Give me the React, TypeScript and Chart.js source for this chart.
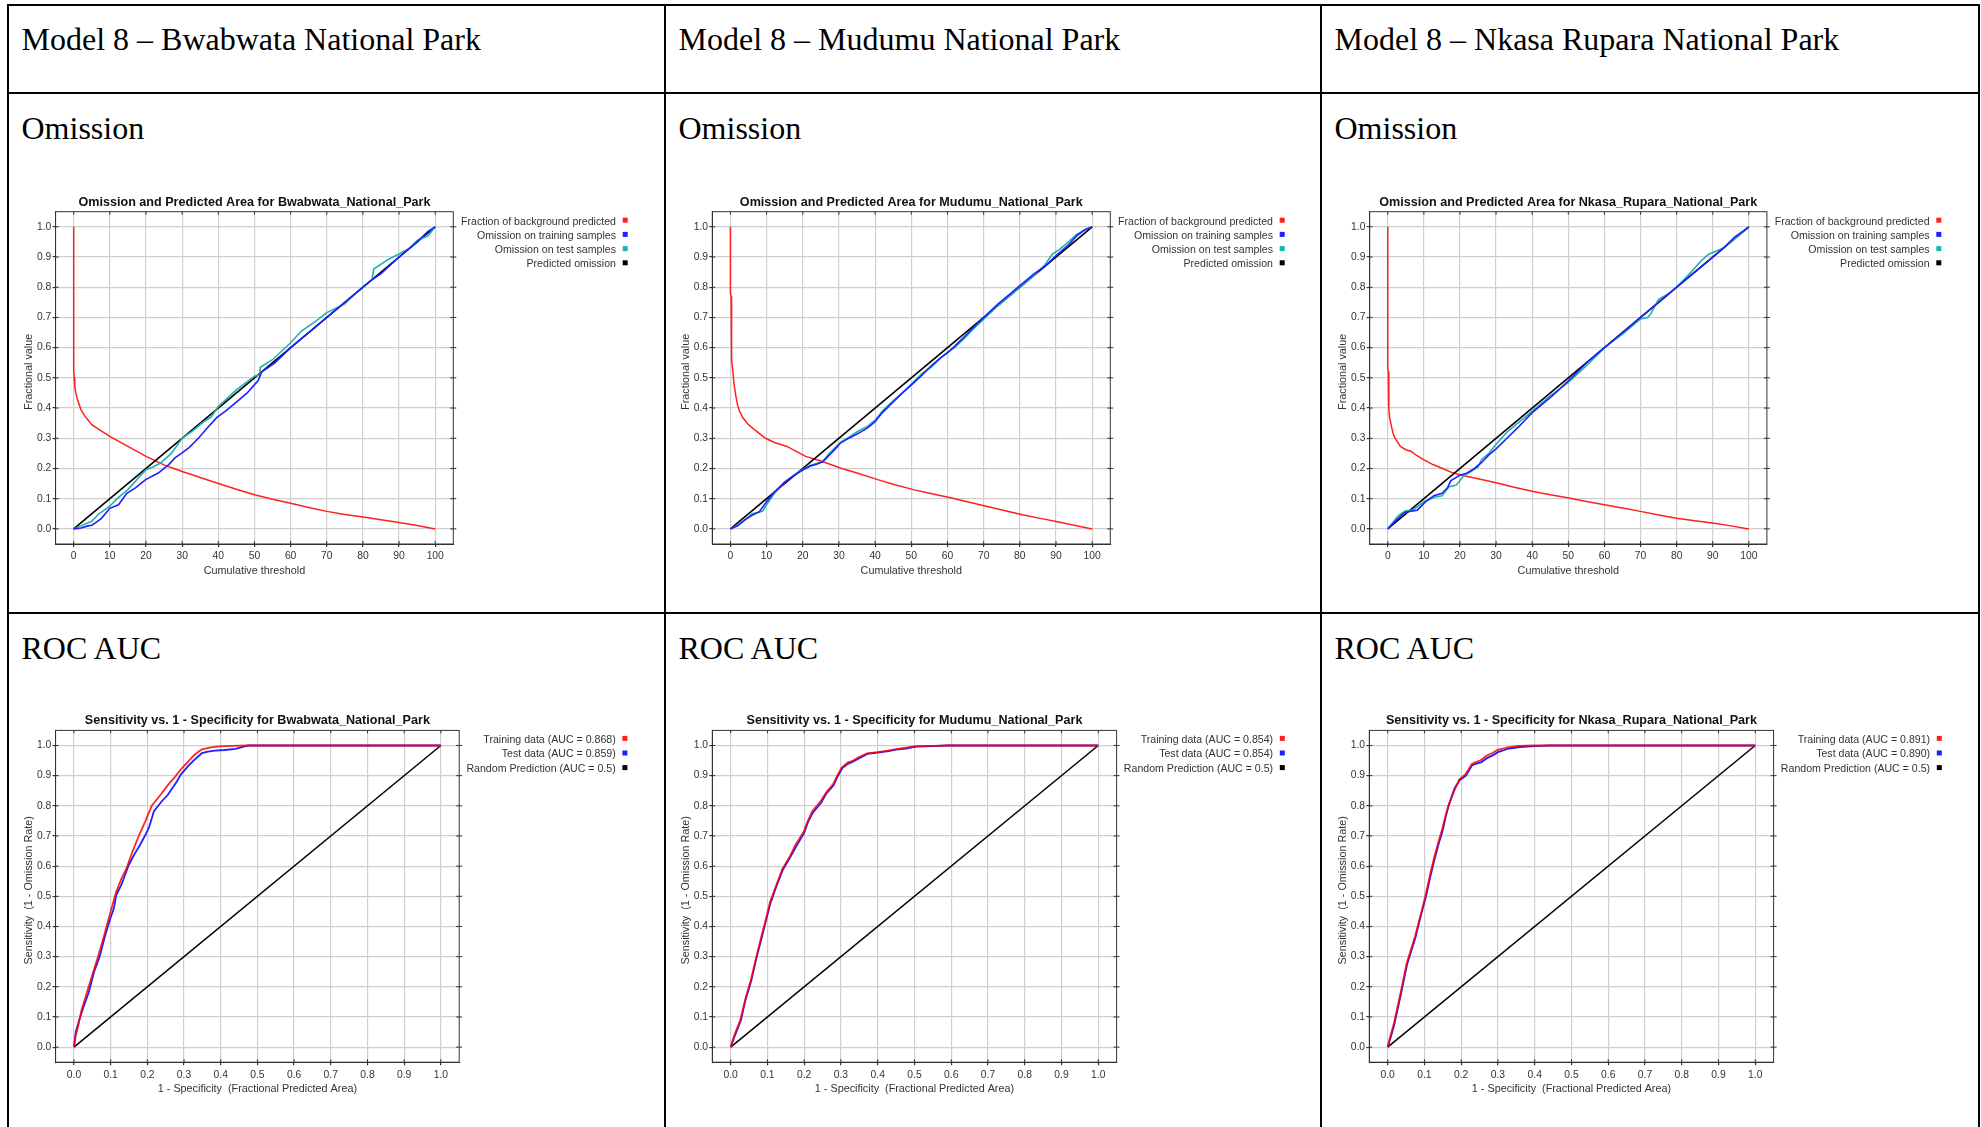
import React, { useEffect, useRef } from "react";
import { Chart, registerables } from "chart.js";

Chart.register(...registerables);

const SANS = "'Liberation Sans', Arial, Helvetica, sans-serif";
const SERIF = "'Liberation Serif', 'Times New Roman', Times, serif";

// ---------------- text ----------------
const PARKS = ["Bwabwata", "Mudumu", "Nkasa_Rupara"];
const HEADERS = [
  "Model 8 \u2013 Bwabwata National Park",
  "Model 8 \u2013 Mudumu National Park",
  "Model 8 \u2013 Nkasa Rupara National Park",
];
const ROW_LABELS = ["Omission", "ROC AUC"];

// ---------------- ticks ----------------
const THRESHOLD_TICKS = [0, 10, 20, 30, 40, 50, 60, 70, 80, 90, 100];
const FRACTION_TICKS = [0, 0.1, 0.2, 0.3, 0.4, 0.5, 0.6, 0.7, 0.8, 0.9, 1.0];

// ---------------- omission: Bwabwata ----------------
const bwaBgX = [0, 0, 0.15, 0.3, 0.6, 1, 2, 3, 5, 7.5, 10, 15, 20, 25, 30, 35, 40, 45, 50, 55, 60, 65, 70, 75, 80, 85, 90, 95, 100];
const bwaBgY = [1.0, 0.53, 0.5, 0.47, 0.45, 0.43, 0.395, 0.375, 0.345, 0.325, 0.306, 0.273, 0.24, 0.212, 0.19, 0.17, 0.15, 0.131, 0.113, 0.098, 0.085, 0.071, 0.058, 0.048, 0.039, 0.03, 0.021, 0.011, 0.0];
const bwaTrainX = [0, 2, 4, 5, 6, 7.7, 10, 12.4, 13, 14.7, 17, 19.9, 23.4, 26.3, 28, 29.8, 32, 34.5, 37, 39.7, 42, 45, 48, 50.2, 51, 51.5, 52, 55.5, 60, 65, 70, 75, 80, 82, 85, 90, 95, 98, 100];
const bwaTrainY = [0, 0.003, 0.01, 0.012, 0.02, 0.035, 0.068, 0.08, 0.09, 0.118, 0.135, 0.163, 0.185, 0.213, 0.235, 0.25, 0.27, 0.3, 0.335, 0.37, 0.39, 0.42, 0.45, 0.48, 0.49, 0.505, 0.52, 0.548, 0.6, 0.65, 0.7, 0.75, 0.8, 0.82, 0.845, 0.9, 0.95, 0.985, 1.0];
const bwaTestX = [0, 2, 4, 5, 7, 10, 12, 15, 18, 20, 22, 24, 27, 30, 33, 36, 38, 40, 45, 50, 51.5, 51.6, 55, 60, 63, 67, 70, 72, 75, 78, 80, 82.5, 83, 87, 90, 93, 95, 98, 100];
const bwaTestY = [0, 0.01, 0.02, 0.025, 0.05, 0.075, 0.1, 0.13, 0.17, 0.196, 0.205, 0.218, 0.25, 0.3, 0.325, 0.355, 0.37, 0.405, 0.46, 0.505, 0.51, 0.535, 0.56, 0.616, 0.655, 0.688, 0.716, 0.727, 0.745, 0.78, 0.8, 0.825, 0.86, 0.892, 0.91, 0.93, 0.955, 0.97, 1.0];

// ---------------- omission: Mudumu ----------------
const mudBgX = [0, 0, 0.2, 0.2, 0.4, 0.4, 0.7, 1, 1.5, 2, 2.5, 3.5, 5, 7, 9.7, 12, 15.6, 20.8, 25, 30.8, 35, 40.7, 45, 50.6, 55, 61.2, 66, 71, 76, 81, 86, 90.4, 95, 100];
const mudBgY = [1.0, 0.78, 0.77, 0.64, 0.62, 0.56, 0.52, 0.48, 0.44, 0.41, 0.39, 0.367, 0.345, 0.325, 0.3, 0.287, 0.273, 0.24, 0.225, 0.2, 0.185, 0.163, 0.148, 0.13, 0.118, 0.102, 0.088, 0.074, 0.06, 0.046, 0.034, 0.024, 0.012, 0];
const mudTrainX = [0, 2, 4, 6, 8, 10, 12, 15, 18, 20, 22, 24, 25.5, 27, 29, 30.5, 33, 35.5, 38, 40, 42, 45, 48, 50.5, 53, 55.5, 58, 60, 62, 65, 67, 70.5, 74, 77, 80, 84, 87, 90, 93, 95.7, 98, 100];
const mudTrainY = [0, 0.01, 0.03, 0.045, 0.057, 0.09, 0.12, 0.155, 0.18, 0.195, 0.207, 0.215, 0.222, 0.24, 0.265, 0.285, 0.302, 0.317, 0.335, 0.355, 0.385, 0.42, 0.455, 0.482, 0.51, 0.54, 0.565, 0.583, 0.605, 0.64, 0.665, 0.705, 0.745, 0.775, 0.805, 0.845, 0.87, 0.905, 0.935, 0.97, 0.99, 1.0];
const mudTestX = [0, 2, 4, 6, 8, 9, 10, 12, 15, 18, 20, 22, 24, 25.5, 27, 29, 30.5, 33, 35.5, 38, 40, 42, 45, 48, 50.5, 53, 55.5, 58, 60, 62, 65, 67, 70.5, 74, 77, 80, 84, 87, 89, 91, 93, 95.7, 98, 100];
const mudTestY = [0, 0.012, 0.03, 0.05, 0.055, 0.06, 0.08, 0.115, 0.155, 0.182, 0.197, 0.21, 0.217, 0.223, 0.245, 0.27, 0.287, 0.305, 0.325, 0.34, 0.36, 0.39, 0.425, 0.455, 0.485, 0.515, 0.535, 0.565, 0.585, 0.6, 0.635, 0.66, 0.7, 0.74, 0.77, 0.8, 0.84, 0.875, 0.91, 0.925, 0.945, 0.975, 0.99, 1.0];

// ---------------- omission: Nkasa Rupara ----------------
const nkaBgX = [0, 0, 0.15, 0.3, 0.5, 1, 1.5, 2, 3.5, 5, 6.4, 8, 9.9, 12.5, 15.2, 17.5, 19.8, 25, 30.3, 35, 40.3, 45, 50.2, 55, 60, 65, 70, 75, 80, 85, 90.4, 95, 100];
const nkaBgY = [1.0, 0.53, 0.52, 0.4, 0.37, 0.34, 0.315, 0.3, 0.273, 0.262, 0.257, 0.243, 0.229, 0.213, 0.2, 0.188, 0.179, 0.166, 0.152, 0.138, 0.124, 0.113, 0.102, 0.091, 0.08, 0.069, 0.058, 0.046, 0.035, 0.027, 0.019, 0.01, 0];
const nkaTrainX = [0, 2, 4.7, 8.2, 10.5, 12.8, 15, 16.5, 17.5, 20, 22, 24, 26, 28, 30, 33, 36, 40, 43, 46, 50, 53, 56, 60, 65, 70, 75, 80, 85, 90, 93, 96, 100];
const nkaTrainY = [0, 0.025, 0.055, 0.062, 0.09, 0.11, 0.118, 0.135, 0.16, 0.178, 0.185, 0.2, 0.22, 0.245, 0.265, 0.3, 0.335, 0.385, 0.415, 0.445, 0.49, 0.525, 0.56, 0.6, 0.65, 0.7, 0.75, 0.8, 0.85, 0.9, 0.93, 0.965, 1.0];
const nkaTestX = [0, 2, 3, 5, 7, 10, 13, 15, 17, 19, 20, 21, 23, 25, 26, 28, 30, 33, 36, 40, 45, 50, 55, 58, 60, 65, 70, 72, 73, 75, 78, 80, 84, 87, 89, 91, 93, 96, 100];
const nkaTestY = [0, 0.03, 0.045, 0.06, 0.062, 0.09, 0.105, 0.11, 0.14, 0.145, 0.16, 0.175, 0.19, 0.205, 0.23, 0.25, 0.28, 0.32, 0.35, 0.39, 0.44, 0.485, 0.54, 0.575, 0.6, 0.645, 0.695, 0.7, 0.715, 0.76, 0.78, 0.8, 0.85, 0.89, 0.91, 0.92, 0.93, 0.96, 1.0];

// ---------------- predicted omission / random prediction ----------------
const predictedX = [0, 100];
const predictedY = [0, 1];
const randomX = [0, 1];
const randomY = [0, 1];

// ---------------- ROC: Bwabwata ----------------
const bwaRocTrainX = [0, 0.005, 0.011, 0.02, 0.04, 0.063, 0.08, 0.097, 0.115, 0.13, 0.143, 0.16, 0.178, 0.195, 0.212, 0.235, 0.258, 0.275, 0.292, 0.31, 0.326, 0.34, 0.349, 0.37, 0.395, 0.43, 0.475, 1.0];
const bwaRocTrainY = [0, 0.04, 0.067, 0.12, 0.2, 0.29, 0.36, 0.436, 0.514, 0.56, 0.592, 0.65, 0.704, 0.75, 0.8, 0.835, 0.872, 0.895, 0.922, 0.945, 0.966, 0.98, 0.987, 0.993, 0.997, 0.999, 1.0, 1.0];
const bwaRocTestX = [0, 0.005, 0.012, 0.025, 0.04, 0.055, 0.07, 0.085, 0.1, 0.109, 0.115, 0.13, 0.149, 0.165, 0.18, 0.195, 0.205, 0.218, 0.24, 0.255, 0.269, 0.28, 0.292, 0.31, 0.326, 0.34, 0.349, 0.365, 0.384, 0.41, 0.441, 0.46, 0.475, 1.0];
const bwaRocTestY = [0, 0.05, 0.08, 0.13, 0.18, 0.25, 0.3, 0.37, 0.43, 0.46, 0.503, 0.54, 0.603, 0.64, 0.67, 0.704, 0.73, 0.782, 0.816, 0.835, 0.86, 0.88, 0.905, 0.93, 0.95, 0.965, 0.975, 0.98, 0.983, 0.985, 0.989, 0.995, 1.0, 1.0];

// ---------------- ROC: Mudumu ----------------
const mudRocTrainX = [0, 0.01, 0.026, 0.04, 0.055, 0.07, 0.084, 0.095, 0.107, 0.125, 0.141, 0.16, 0.176, 0.199, 0.21, 0.222, 0.245, 0.26, 0.279, 0.29, 0.302, 0.319, 0.33, 0.348, 0.371, 0.4, 0.428, 0.45, 0.474, 0.503, 0.55, 0.589, 1.0];
const mudRocTrainY = [0, 0.04, 0.089, 0.16, 0.223, 0.3, 0.369, 0.42, 0.48, 0.54, 0.592, 0.63, 0.67, 0.715, 0.75, 0.782, 0.816, 0.845, 0.872, 0.9, 0.927, 0.944, 0.948, 0.961, 0.974, 0.978, 0.983, 0.988, 0.992, 0.998, 0.999, 1.0, 1.0];
const mudRocTestX = [0, 0.012, 0.028, 0.04, 0.056, 0.07, 0.085, 0.095, 0.108, 0.125, 0.142, 0.16, 0.178, 0.2, 0.21, 0.224, 0.246, 0.26, 0.28, 0.29, 0.304, 0.32, 0.33, 0.35, 0.372, 0.4, 0.43, 0.45, 0.476, 0.505, 0.55, 0.59, 1.0];
const mudRocTestY = [0, 0.04, 0.089, 0.155, 0.22, 0.295, 0.365, 0.415, 0.476, 0.535, 0.588, 0.625, 0.665, 0.71, 0.745, 0.778, 0.81, 0.84, 0.868, 0.895, 0.925, 0.94, 0.945, 0.958, 0.972, 0.976, 0.981, 0.986, 0.99, 0.996, 0.998, 1.0, 1.0];

// ---------------- ROC: Nkasa Rupara ----------------
const nkaRocTrainX = [0, 0.008, 0.017, 0.035, 0.052, 0.075, 0.09, 0.103, 0.115, 0.126, 0.138, 0.149, 0.158, 0.166, 0.175, 0.183, 0.195, 0.212, 0.229, 0.24, 0.252, 0.269, 0.285, 0.298, 0.315, 0.327, 0.356, 0.401, 1.0];
const nkaRocTrainY = [0, 0.04, 0.078, 0.18, 0.279, 0.369, 0.44, 0.503, 0.57, 0.626, 0.68, 0.726, 0.77, 0.804, 0.83, 0.855, 0.888, 0.905, 0.939, 0.945, 0.95, 0.966, 0.975, 0.985, 0.99, 0.994, 0.999, 1.0, 1.0];
const nkaRocTestX = [0, 0.009, 0.018, 0.036, 0.053, 0.076, 0.09, 0.104, 0.116, 0.127, 0.139, 0.15, 0.158, 0.166, 0.175, 0.183, 0.196, 0.213, 0.23, 0.242, 0.255, 0.27, 0.287, 0.3, 0.318, 0.33, 0.36, 0.4, 0.44, 1.0];
const nkaRocTestY = [0, 0.035, 0.075, 0.175, 0.275, 0.365, 0.435, 0.498, 0.565, 0.62, 0.675, 0.72, 0.765, 0.8, 0.835, 0.86, 0.885, 0.9, 0.935, 0.94, 0.945, 0.958, 0.968, 0.978, 0.985, 0.99, 0.995, 0.998, 1.0, 1.0];

// ---------------- AUC labels ----------------
const TRAIN_AUC = ["0.868", "0.854", "0.891"];
const TEST_AUC = ["0.859", "0.854", "0.890"];

// ---------------- colours ----------------
const RED = "#ff1f1f";
const RED_ROC = "rgba(255,0,0,0.85)";
const BLUE = "#1f1fff";
const TEAL = "#20b0b0";
const BLACK = "#000000";
const TEXT = "#333333";

// ---------------- layout (page pixels) ----------------
const V_LINES = [7, 664, 1320, 1978];
const H_LINES = [4, 92, 612];
const CANVAS_LEFT = [10, 667, 1323];
const CANVAS_W = 650;
const OMI_CANVAS = { top: 186, height: 400 };
const ROC_CANVAS = { top: 705, height: 400 };
const OMI_AREA_X = [[55.6, 453.3], [712.3, 1110.3], [1369.7, 1766.9]];
const ROC_AREA_X = [[55.6, 459.2], [712.3, 1116.6], [1369.3, 1773.6]];
const OMI_AREA_Y = [211.7, 544];
const ROC_AREA_Y = [730.4, 1062.2];

type Pt = { x: number; y: number };
const zip = (xs: number[], ys: number[]): Pt[] => xs.map((x, i) => ({ x, y: ys[i] }));

interface LineSpec { data: Pt[]; color: string; width: number }
interface LegendItem { label: string; color: string }
interface PanelSpec {
  id: string;
  kind: "omission" | "roc";
  title: string;
  xTitle: string;
  yTitle: string;
  lines: LineSpec[]; // first = drawn on top
  legend: LegendItem[];
  cx: number; cy: number; cw: number; ch: number;
  area: { l: number; t: number; r: number; b: number };
}

const omissionData = [
  { bg: zip(bwaBgX, bwaBgY), tr: zip(bwaTrainX, bwaTrainY), te: zip(bwaTestX, bwaTestY) },
  { bg: zip(mudBgX, mudBgY), tr: zip(mudTrainX, mudTrainY), te: zip(mudTestX, mudTestY) },
  { bg: zip(nkaBgX, nkaBgY), tr: zip(nkaTrainX, nkaTrainY), te: zip(nkaTestX, nkaTestY) },
];
const rocData = [
  { tr: zip(bwaRocTrainX, bwaRocTrainY), te: zip(bwaRocTestX, bwaRocTestY) },
  { tr: zip(mudRocTrainX, mudRocTrainY), te: zip(mudRocTestX, mudRocTestY) },
  { tr: zip(nkaRocTrainX, nkaRocTrainY), te: zip(nkaRocTestX, nkaRocTestY) },
];

const PANELS: PanelSpec[] = [];
PARKS.forEach((park, i) => {
  const od = omissionData[i];
  PANELS.push({
    id: "omi" + i,
    kind: "omission",
    title: `Omission and Predicted Area for ${park}_National_Park`,
    xTitle: "Cumulative threshold",
    yTitle: "Fractional value",
    lines: [
      { data: od.tr, color: BLUE, width: 1.6 },
      { data: od.te, color: TEAL, width: 1.6 },
      { data: zip(predictedX, predictedY), color: BLACK, width: 1.6 },
      { data: od.bg, color: RED, width: 1.5 },
    ],
    legend: [
      { label: "Fraction of background predicted", color: RED },
      { label: "Omission on training samples", color: BLUE },
      { label: "Omission on test samples", color: TEAL },
      { label: "Predicted omission", color: BLACK },
    ],
    cx: CANVAS_LEFT[i], cy: OMI_CANVAS.top, cw: CANVAS_W, ch: OMI_CANVAS.height,
    area: { l: OMI_AREA_X[i][0], r: OMI_AREA_X[i][1], t: OMI_AREA_Y[0], b: OMI_AREA_Y[1] },
  });
});
PARKS.forEach((park, i) => {
  const rd = rocData[i];
  PANELS.push({
    id: "roc" + i,
    kind: "roc",
    title: `Sensitivity vs. 1 - Specificity for ${park}_National_Park`,
    xTitle: "1 - Specificity  (Fractional Predicted Area)",
    yTitle: "Sensitivity  (1 - Omission Rate)",
    lines: [
      { data: rd.tr, color: RED_ROC, width: 1.8 },
      { data: rd.te, color: BLUE, width: 1.8 },
      { data: zip(randomX, randomY), color: BLACK, width: 1.5 },
    ],
    legend: [
      { label: `Training data (AUC = ${TRAIN_AUC[i]})`, color: RED },
      { label: `Test data (AUC = ${TEST_AUC[i]})`, color: BLUE },
      { label: "Random Prediction (AUC = 0.5)", color: BLACK },
    ],
    cx: CANVAS_LEFT[i], cy: ROC_CANVAS.top, cw: CANVAS_W, ch: ROC_CANVAS.height,
    area: { l: ROC_AREA_X[i][0], r: ROC_AREA_X[i][1], t: ROC_AREA_Y[0], b: ROC_AREA_Y[1] },
  });
});

function decorPlugin(spec: PanelSpec) {
  return {
    id: "decor_" + spec.id,
    afterDraw(chart: any) {
      const ctx: CanvasRenderingContext2D = chart.ctx;
      const a = chart.chartArea;
      const xs = chart.scales.x;
      const ys = chart.scales.y;
      ctx.save();
      // frame
      ctx.strokeStyle = "#333";
      ctx.lineWidth = 1;
      ctx.strokeRect(a.left, a.top, a.right - a.left, a.bottom - a.top);
      // inner tick marks on all four sides
      ctx.beginPath();
      const xt = spec.kind === "omission" ? THRESHOLD_TICKS : FRACTION_TICKS;
      xt.forEach((v) => {
        const px = xs.getPixelForValue(v);
        ctx.moveTo(px, a.top); ctx.lineTo(px, a.top + 3);
        ctx.moveTo(px, a.bottom); ctx.lineTo(px, a.bottom - 3);
      });
      FRACTION_TICKS.forEach((v) => {
        const py = ys.getPixelForValue(v);
        ctx.moveTo(a.left, py); ctx.lineTo(a.left + 3, py);
        ctx.moveTo(a.right, py); ctx.lineTo(a.right - 3, py);
        ctx.moveTo(a.right, py); ctx.lineTo(a.right + 3, py);
      });
      ctx.stroke();
      const midX = (a.left + a.right) / 2;
      const midY = (a.top + a.bottom) / 2;
      // title
      ctx.fillStyle = "#111";
      ctx.font = `bold 12.6px ${SANS}`;
      ctx.textAlign = "center";
      ctx.textBaseline = "middle";
      ctx.fillText(spec.title, midX, a.top - 9.4);
      // axis titles
      ctx.fillStyle = TEXT;
      ctx.font = `10.8px ${SANS}`;
      ctx.fillText(spec.xTitle, midX, a.bottom + 26.7);
      ctx.save();
      ctx.translate(a.left - 26.3, midY - 6);
      ctx.rotate(-Math.PI / 2);
      ctx.fillText(spec.yTitle, 0, 0);
      ctx.restore();
      // legend
      const isOmi = spec.kind === "omission";
      const textRight = a.right + (isOmi ? 162.7 : 156.5);
      const markLeft = a.right + (isOmi ? 169.4 : 163.2);
      const row0 = a.top + (isOmi ? 10 : 9.5);
      const rowStep = isOmi ? 14.2 : 14.6;
      ctx.font = `10.6px ${SANS}`;
      ctx.textAlign = "right";
      spec.legend.forEach((it, k) => {
        const yy = row0 + k * rowStep;
        ctx.fillStyle = TEXT;
        ctx.fillText(it.label, textRight, yy);
        ctx.fillStyle = it.color;
        ctx.fillRect(markLeft, yy - 4, 5, 5);
      });
      ctx.restore();
    },
  };
}

function buildConfig(spec: PanelSpec): any {
  const isOmi = spec.kind === "omission";
  const xTicks = isOmi ? THRESHOLD_TICKS : FRACTION_TICKS;
  const span = isOmi ? 100 : 1;
  const padTop = spec.area.t - spec.cy;
  const padRight = spec.cx + spec.cw - spec.area.r;
  const yWidth = spec.area.l - spec.cx;
  const xHeight = spec.cy + spec.ch - spec.area.b;
  const tickFont = { family: SANS, size: 10.3 };
  return {
    type: "scatter",
    data: {
      datasets: spec.lines.map((l) => ({
        data: l.data,
        showLine: true,
        borderColor: l.color,
        backgroundColor: l.color,
        borderWidth: l.width,
        pointRadius: 0,
        pointHoverRadius: 0,
        fill: false,
        tension: 0,
      })),
    },
    options: {
      animation: false,
      responsive: false,
      maintainAspectRatio: false,
      devicePixelRatio: 1,
      events: [],
      layout: { padding: { left: 0, top: padTop, right: padRight, bottom: 0 } },
      plugins: { legend: { display: false }, title: { display: false }, tooltip: { enabled: false } },
      scales: {
        x: {
          type: "linear",
          min: -0.05 * span,
          max: 1.05 * span,
          afterBuildTicks: (s: any) => { s.ticks = xTicks.map((v) => ({ value: v })); },
          afterFit: (s: any) => { s.height = xHeight; },
          ticks: {
            autoSkip: false,
            maxRotation: 0,
            minRotation: 0,
            padding: 3.4,
            color: TEXT,
            font: tickFont,
            callback: (v: any) => (isOmi ? String(Math.round(Number(v))) : Number(v).toFixed(1)),
          },
          grid: { color: "#cfcfcf", lineWidth: 1.2, tickColor: "#333", tickLength: 3, drawTicks: true },
          border: { display: true, color: "#333", width: 1 },
        },
        y: {
          type: "linear",
          min: -0.05,
          max: 1.05,
          afterBuildTicks: (s: any) => { s.ticks = FRACTION_TICKS.map((v) => ({ value: v })); },
          afterFit: (s: any) => { s.width = yWidth; },
          ticks: {
            autoSkip: false,
            padding: 1.3,
            color: TEXT,
            font: tickFont,
            callback: (v: any) => Number(v).toFixed(1),
          },
          grid: { color: "#cfcfcf", lineWidth: 1.2, tickColor: "#333", tickLength: 3, drawTicks: true },
          border: { display: true, color: "#333", width: 1 },
        },
      },
    },
    plugins: [decorPlugin(spec)],
  };
}

function PanelChart({ spec }: { spec: PanelSpec }) {
  const ref = useRef<HTMLCanvasElement | null>(null);
  useEffect(() => {
    const canvas = ref.current;
    if (!canvas) return;
    const chart = new Chart(canvas, buildConfig(spec));
    return () => chart.destroy();
  }, [spec]);
  return (
    <canvas
      ref={ref}
      width={spec.cw}
      height={spec.ch}
      style={{ position: "absolute", left: spec.cx, top: spec.cy, width: spec.cw, height: spec.ch }}
    />
  );
}

const FS = 32;
const ASC = 0.891 * FS;

function Label({ text, left, baseline }: { text: string; left: number; baseline: number }) {
  return (
    <div
      style={{
        position: "absolute",
        left,
        top: baseline - ASC,
        fontFamily: SERIF,
        fontSize: FS,
        lineHeight: `${1.107 * FS}px`,
        color: "#000",
        whiteSpace: "nowrap",
      }}
    >
      {text}
    </div>
  );
}

export default function App() {
  return (
    <div
      style={{
        position: "fixed",
        left: 0,
        top: 0,
        width: 1981,
        height: 1127,
        overflow: "hidden",
        background: "#fff",
      }}
    >
      {PANELS.map((p) => (
        <PanelChart key={p.id} spec={p} />
      ))}
      {HEADERS.map((h, i) => (
        <Label key={"h" + i} text={h} left={V_LINES[i] + 14.5} baseline={50.5} />
      ))}
      {HEADERS.map((_, i) => (
        <Label key={"o" + i} text={ROW_LABELS[0]} left={V_LINES[i] + 14.5} baseline={140} />
      ))}
      {HEADERS.map((_, i) => (
        <Label key={"r" + i} text={ROW_LABELS[1]} left={V_LINES[i] + 14.5} baseline={659.5} />
      ))}
      {H_LINES.map((y, i) => (
        <div key={"hl" + i} style={{ position: "absolute", left: V_LINES[0], top: y, width: V_LINES[3] - V_LINES[0] + 2, height: 2, background: "#000" }} />
      ))}
      {V_LINES.map((x, i) => (
        <div key={"vl" + i} style={{ position: "absolute", left: x, top: H_LINES[0], width: 2, height: 1127, background: "#000" }} />
      ))}
    </div>
  );
}
